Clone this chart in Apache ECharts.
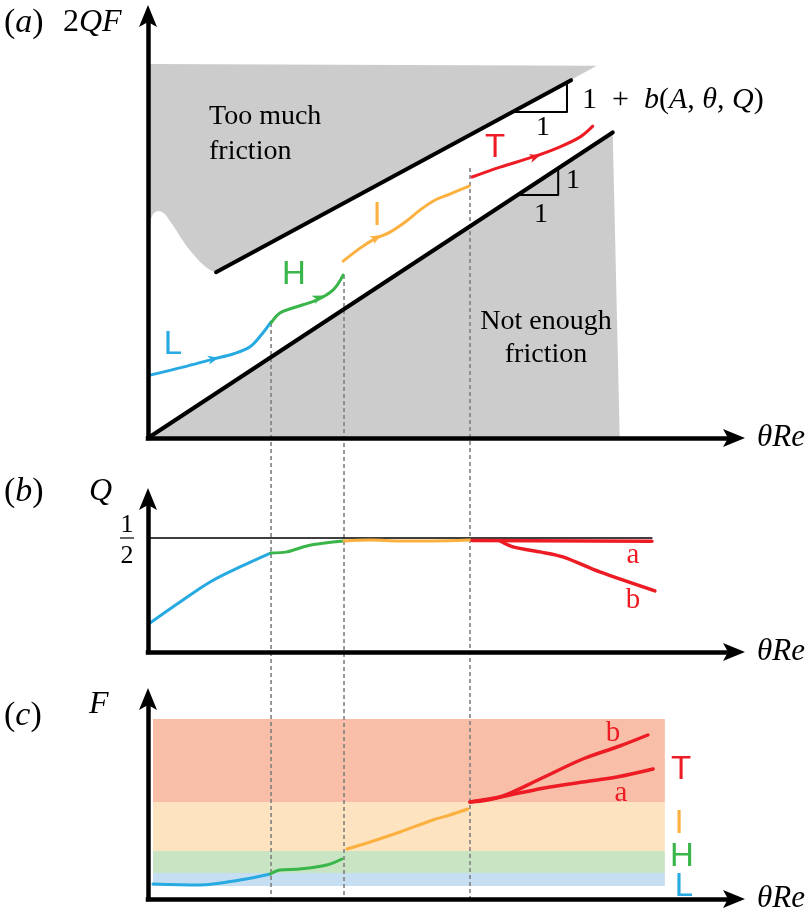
<!DOCTYPE html>
<html><head><meta charset="utf-8">
<script src="https://cdn.jsdelivr.net/npm/echarts@6/dist/echarts.min.js"></script>
<style>html,body{margin:0;padding:0;background:#fff}#c{width:812px;height:922px}</style>
</head><body><div id="c"></div>
<script>
// ================= DATA (schematic values) =================
// x: θRe on a 0–100 scale (shared by all panels)
// (a) y: 2QF on 0–100, (b) y: Q (real units), (c) y: F on 0–100
const regimeNames = ['L', 'H', 'I', 'T'];
const regimeBounds = [21.0, 33.45, 54.95];          // L|H, H|I, I|T (θRe)
const dashTops2QF = [27.25, 38.6, 64.0];            // where the dashed guides start in (a)

// (a) friction bounds
const lowerLine = [[0, 0], [79.3, 72.4]];           // slope 1
const upperLine = [[11.6, 39.3], [72.2, 84.8]];     // slope 1 + b(A, θ, Q)
const tooMuchRegion = [[0.3, 88.6], [0.3, 50.0], [0.51, 51.9], [0.85, 53.1], [1.37, 53.7], [1.88, 53.8],
  [2.39, 53.55], [2.9, 53.1], [3.41, 52.1], [4.1, 50.7], [4.78, 49.3], [5.63, 47.4], [6.66, 45.3],
  [7.68, 43.6], [8.87, 41.7], [10.07, 40.3], [10.9, 39.6], [11.6, 39.3], [76.6, 88.2]];
const notEnoughRegion = [[0, 0], [79.3, 72.4], [80.5, 0]];
const slopeTriUpper = [[62.3, 77.25], [71.5, 77.25], [71.5, 84.2]];
const slopeTriLower = [[63.0, 57.6], [70.0, 57.6], [70.0, 64.0]];

// (a) trajectory 2QF(θRe)
const aL = [[0.34, 14.9], [5.97, 16.8], [11.09, 18.7], [14.5, 19.9], [17.4, 21.6], [19.6, 24.9], [21.0, 27.5]];
const aH = [[21.0, 27.25], [22.5, 29.6], [24.7, 30.8], [28.8, 32.7], [31.6, 35.1], [33.3, 38.6]];
const aI = [[33.3, 41.9], [36.2, 45.0], [38.7, 47.2], [41.3, 48.8], [43.9, 51.2], [46.4, 54.0], [49.0, 56.4], [51.5, 57.8], [54.8, 59.7]];
const aT = [[55.3, 61.85], [60.1, 64.2], [65.7, 66.6], [69.8, 68.7], [73.7, 71.3], [75.9, 73.9]];
const arrowsA = [[11.09, 18.7, 11.9, 18.95], [29.0, 33.2, 29.7, 33.6], [38.9, 47.4, 39.8, 48.1], [66.0, 66.6, 66.9, 67.0]];

// (b) Q(θRe)
const qHalf = 0.5;
const qHalfEnd = 86.0;
const qL = [[0.34, 0.127], [5.46, 0.219], [10.6, 0.307], [15.7, 0.373], [20.9, 0.434]];
const qH = [[20.9, 0.434], [23.7, 0.439], [27.1, 0.465], [30.2, 0.478], [33.45, 0.487]];
const qI = [[33.45, 0.487], [37.9, 0.491], [43.0, 0.487], [48.1, 0.487], [54.95, 0.491]];
const qTa = [[55.3, 0.489], [86.0, 0.486]];
const qTb = [[60.1, 0.487], [62.3, 0.461], [66.9, 0.439], [70.8, 0.417], [77.1, 0.351], [86.5, 0.268]];

// (c) F(θRe) and regime bands
const fBandEdges = [6.5, 13, 24, 48.5, 90];          // L, H, I, T bands (bottom→top)
const fBandX = [0.85, 88.2];
const fL = [[0.85, 7.5], [8.87, 7.0], [15.7, 9.5], [20.9, 12.5]];
const fH = [[20.9, 12.5], [22.5, 14.5], [25.9, 15.0], [30.5, 17.0], [33.1, 20.0]];
const fI = [[33.96, 25.0], [37.9, 28.5], [43.0, 33.5], [48.6, 39.5], [51.5, 42.0], [54.6, 45.0]];
const fTa = [[54.95, 48.5], [60.1, 51.0], [67.4, 55.4], [74.2, 58.5], [80.0, 61.0], [86.2, 65.0]];
const fTb = [[54.95, 48.5], [60.1, 51.0], [66.9, 60.0], [74.2, 70.0], [80.5, 76.5], [85.3, 82.0]];

// ================= STYLE / LAYOUT =================
const C = { L: '#27aae1', H: '#39b54a', I: '#fbb040', T: '#ed1c24' };
const BAND = ['#c5def2', '#c8e4c2', '#fde3c0', '#f9bea8'];
const GRAY = '#cccccc';
const GA = { left: 148, right: 78, top: 16, bottom: 484 };
const GB = { left: 148, right: 78, top: 499, bottom: 270 };
const GC = { left: 148, right: 78, top: 699, bottom: 23 };
const SERIF = 'Liberation Serif';
const SANS = 'Liberation Sans';
const ARROW = 'path://M9,0 L18,22 L9,17 L0,22 Z';

const chart = echarts.init(document.getElementById('c'), null, { renderer: 'canvas' });

function axisLine() {
  return { show: true, onZero: false, symbol: ['none', ARROW], symbolSize: [18, 22],
    lineStyle: { color: '#000', width: 4.5, cap: 'square' } };
}
const xAxes = [0, 1, 2].map(i => ({
  type: 'value', gridIndex: i, min: 0, max: 100, z: 8,
  axisLine: axisLine(), axisTick: { show: false }, axisLabel: { show: false }, splitLine: { show: false },
  name: 'θRe', nameLocation: 'end', nameGap: 23,
  nameTextStyle: { fontFamily: SERIF, fontStyle: 'italic', fontSize: 31, color: '#000', verticalAlign: 'middle', align: 'left' }
}));
const yMax = [100, 0.671, 100];
const yAxes = [0, 1, 2].map(i => ({
  type: 'value', gridIndex: i, min: 0, max: yMax[i], z: 8,
  axisLine: axisLine(), axisTick: { show: false }, axisLabel: { show: false }, splitLine: { show: false }
}));

function polygon(points, fill, gi, z) {
  return { type: 'custom', xAxisIndex: gi, yAxisIndex: gi, z, silent: true, clip: false, data: [0],
    renderItem: (p, api) => ({ type: 'polygon', shape: { points: points.map(pt => api.coord(pt)) }, style: { fill } }) };
}
function line(data, color, width, gi, z, smooth) {
  return { type: 'line', xAxisIndex: gi, yAxisIndex: gi, data, smooth: smooth || false,
    symbol: 'none', showSymbol: false, silent: true, z, clip: false,
    lineStyle: { color, width, cap: 'round', join: 'round' } };
}

const series = [];
// (a) shaded regions
series.push(polygon(tooMuchRegion, GRAY, 0, 1));
series.push(polygon(notEnoughRegion, GRAY, 0, 1));
// (c) bands
series.push({ type: 'custom', xAxisIndex: 2, yAxisIndex: 2, z: 1, silent: true, clip: false,
  data: fBandEdges.slice(0, -1).map((lo, i) => [fBandX[0], fBandX[1], lo, fBandEdges[i + 1], i]),
  renderItem: (p, api) => {
    const a = api.coord([api.value(0), api.value(3)]);
    const b = api.coord([api.value(1), api.value(2)]);
    return { type: 'rect', shape: { x: a[0], y: a[1], width: b[0] - a[0], height: b[1] - a[1] }, style: { fill: BAND[api.value(4)] } };
  } });
// dashed regime guides: from the curve in (a) down to the θRe axis of (c)
const dropAtoC = GA.bottom - GC.bottom;
series.push({ type: 'custom', xAxisIndex: 0, yAxisIndex: 0, z: 2, silent: true, clip: false,
  data: regimeBounds.map((x, i) => [x, dashTops2QF[i]]),
  renderItem: (p, api) => {
    const t = api.coord([api.value(0), api.value(1)]);
    const b = api.coord([api.value(0), 0]);
    return { type: 'line', shape: { x1: t[0], y1: t[1], x2: t[0], y2: b[1] + dropAtoC },
      style: { stroke: '#808080', lineWidth: 1.6, lineDash: [4, 3] } };
  } });
// (a) bounds and slope triangles
series.push(line(lowerLine, '#000', 4, 0, 3));
series.push(line(upperLine, '#000', 4, 0, 3));
series.push(line(slopeTriUpper, '#000', 2, 0, 3));
series.push(line(slopeTriLower, '#000', 2, 0, 3));
// (a) trajectory
[aL, aH, aI, aT].forEach((d, i) => series.push(line(d, C[regimeNames[i]], 3, 0, 4, 0.35)));
series.push({ type: 'custom', xAxisIndex: 0, yAxisIndex: 0, z: 5, silent: true, clip: false,
  data: arrowsA,
  renderItem: (p, api) => {
    const a = api.coord([api.value(0), api.value(1)]);
    const b = api.coord([api.value(2), api.value(3)]);
    const ang = Math.atan2(b[1] - a[1], b[0] - a[0]);
    const c = Math.cos(ang), s = Math.sin(ang);
    const P = (f, n) => [a[0] + f * c - n * s, a[1] + f * s + n * c];
    return { type: 'polygon', shape: { points: [P(6, 0), P(-5, 4.5), P(-2, 0), P(-5, -4.5)] },
      style: { fill: C[regimeNames[p.dataIndex]] } };
  } });
// (b)
series.push(line([[0, qHalf], [qHalfEnd, qHalf]], '#000', 1.3, 1, 3));
[qL, qH, qI].forEach((d, i) => series.push(line(d, C[regimeNames[i]], 3, 1, 4, 0.35)));
series.push(line(qTa, C.T, 3.5, 1, 4));
series.push(line(qTb, C.T, 3.5, 1, 4, 0.3));
// (c)
[fL, fH, fI].forEach((d, i) => series.push(line(d, C[regimeNames[i]], 3, 2, 4, 0.35)));
series.push(line(fTa, C.T, 3.5, 2, 4, 0.35));
series.push(line(fTb, C.T, 3.5, 2, 4, 0.35));

// ---------- text ----------
function T(x, y, text, fam, size, fill, align, italic) {
  return { type: 'text', x, y, z: 20, silent: true,
    style: { text, fontFamily: fam, fontSize: size, fontStyle: italic ? 'italic' : 'normal',
      fill: fill || '#000', align: align || 'left', verticalAlign: 'middle' } };
}
function R(x, y, text, size, fill) {
  return { type: 'text', x, y, z: 20, silent: true,
    style: { text, fill: fill || '#000', align: 'left', verticalAlign: 'middle', fontFamily: SERIF, fontSize: size,
      rich: { u: { fontFamily: SERIF, fontSize: size, fill: fill || '#000' },
              i: { fontFamily: SERIF, fontSize: size, fontStyle: 'italic', fill: fill || '#000' } } } };
}
const graphic = [
  R(4, 23, '{u|(}{i|a}{u|)}', 34), R(63, 23, '{u|2}{i|QF}', 32),
  R(4, 492, '{u|(}{i|b}{u|)}', 34), T(89, 492, 'Q', SERIF, 32, '#000', 'left', true),
  R(4, 716, '{u|(}{i|c}{u|)}', 34), T(89, 705, 'F', SERIF, 32, '#000', 'left', true),
  T(127, 525, '1', SERIF, 26, '#000', 'center'), T(127, 556, '2', SERIF, 26, '#000', 'center'),
  { type: 'line', z: 20, silent: true, shape: { x1: 120, y1: 538, x2: 134, y2: 538 }, style: { stroke: '#000', lineWidth: 1.2 } },
  T(209, 117, 'Too much', SERIF, 28), T(209, 152, 'friction', SERIF, 28),
  T(546, 322, 'Not enough', SERIF, 28, '#000', 'center'), T(546, 355, 'friction', SERIF, 28, '#000', 'center'),
  R(582, 100, '{u|1\u2002+\u2002}{i|b}{u|(}{i|A}{u|, }{i|θ}{u|, }{i|Q}{u|)}', 30),
  T(543, 128, '1', SERIF, 28, '#000', 'center'), T(573, 181, '1', SERIF, 28, '#000', 'center'), T(541, 215, '1', SERIF, 28, '#000', 'center'),
  T(173, 345, 'L', SANS, 33, C.L, 'center'), T(294, 275, 'H', SANS, 33, C.H, 'center'),
  T(377, 216, 'I', SANS, 33, C.I, 'center'), T(495, 148, 'T', SANS, 33, C.T, 'center'),
  T(633, 555, 'a', SERIF, 29, C.T, 'center'), T(633, 600, 'b', SERIF, 29, C.T, 'center'),
  T(613, 733, 'b', SERIF, 29, C.T, 'center'), T(621, 793, 'a', SERIF, 29, C.T, 'center'),
  T(681, 770, 'T', SANS, 33, C.T, 'center'), T(679, 824, 'I', SANS, 33, C.I, 'center'),
  T(682, 857, 'H', SANS, 33, C.H, 'center'), T(684, 887, 'L', SANS, 33, C.L, 'center')
];

chart.setOption({
  animation: false,
  backgroundColor: '#ffffff',
  grid: [GA, GB, GC],
  xAxis: xAxes,
  yAxis: yAxes,
  series,
  graphic
});
</script>
</body></html>
